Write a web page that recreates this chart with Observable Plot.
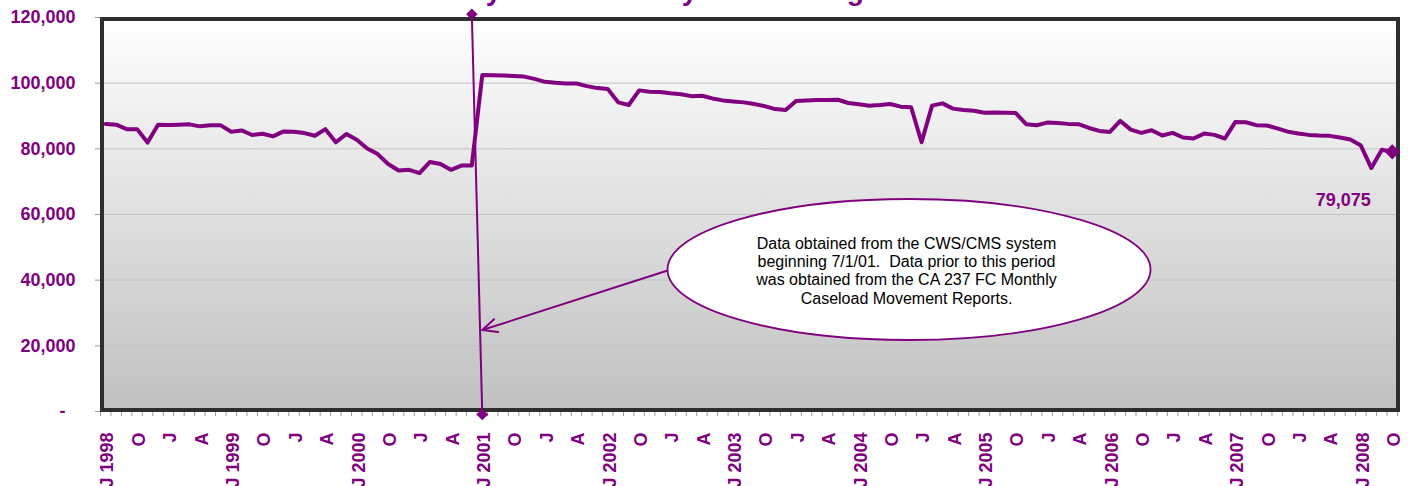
<!DOCTYPE html>
<html>
<head>
<meta charset="utf-8">
<script src="https://cdn.jsdelivr.net/npm/d3@7"></script>
<script src="https://cdn.jsdelivr.net/npm/@observablehq/plot@0.6"></script>
<style>
  body { margin: 0; background: #fff; }
  #chart svg { overflow: visible; }
</style>
</head>
<body>
<div id="chart"></div>
<script>
// Monthly foster care caseload, July 1998 .. October 2008 (124 months)
const caseload = [
  87550, 87350, 86000, 86000, 81900, 87350,            // Jul-Dec 1998
  87250, 87350, 87450, 86850, 87150, 87150,            // Jan-Jun 1999
  85200, 85600, 84200, 84600, 83800, 85300,            // Jul-Dec 1999
  85200, 84800, 84000, 86000, 82000, 84500,            // Jan-Jun 2000
  82750, 80100, 78400, 75400, 73400, 73600,            // Jul-Dec 2000
  72600, 76000, 75400, 73600, 74900, 74900,            // Jan-Jun 2001
  102500, 102400, 102300, 102200, 102000, 101300,      // Jul-Dec 2001
  100400, 100100, 99900, 99900, 99100, 98500,          // Jan-Jun 2002
  98200, 94150, 93350, 97800, 97400, 97300,            // Jul-Dec 2002
  96900, 96600, 96050, 96150, 95350, 94750,            // Jan-Jun 2003
  94450, 94150, 93650, 93000, 92100, 91800,            // Jul-Dec 2003
  94550, 94750, 94850, 94850, 94950, 93950,            // Jan-Jun 2004
  93550, 93150, 93350, 93650, 92850, 92650,            // Jul-Dec 2004
  82000, 93150, 93850, 92250, 91800, 91600,            // Jan-Jun 2005
  91000, 91100, 91000, 90900, 87500, 87200,            // Jul-Dec 2005
  88000, 87900, 87600, 87500, 86350, 85450,            // Jan-Jun 2006
  85150, 88500, 85850, 84850, 85650, 84050,            // Jul-Dec 2006
  84850, 83450, 83150, 84650, 84250, 83150,            // Jan-Jun 2007
  88200, 88100, 87200, 87100, 86250, 85250,            // Jul-Dec 2007
  84650, 84250, 84050, 83950, 83450, 82850,            // Jan-Jun 2008
  81000, 74150, 79700, 79075                           // Jul-Oct 2008
];
// quarterly tick labels (every third month starting July 1998)
const tickLabels = [
  "J 1998","O","J","A","J 1999","O","J","A","J 2000","O","J","A",
  "J 2001","O","J","A","J 2002","O","J","A","J 2003","O","J","A",
  "J 2004","O","J","A","J 2005","O","J","A","J 2006","O","J","A",
  "J 2007","O","J","A","J 2008","O"
];
const yTicks = [0, 20000, 40000, 60000, 80000, 100000, 120000];
const gridTicks = [20000, 40000, 60000, 80000, 100000];
const titleText = "Foster Care Monthly Caseload July 1998 through October 2008";
const noteText = "Data obtained from the CWS/CMS system\nbeginning 7/1/01.\u00a0 Data prior to this period\nwas obtained from the CA 237 FC Monthly\nCaseload Movement Reports.";
const lastLabel = "79,075";
// annotation anchors (data coordinates: month index, caseload)
const splitLine = [{x1: 35, y1: 121000, x2: 36, y2: -900}];
const noteArrow = [{x1: 53.8, y1: 43000, x2: 36, y2: 24800}];
const noteBubble = [{x: 76.8, y: 43250}];

const purple = "#800080";
const font = "'Liberation Sans', Arial, sans-serif";

const data = caseload.map((v, i) => ({i, v}));
const labelIdx = tickLabels.map((_, k) => k * 3);
const boundaries = d3.range(0, caseload.length + 1).map(i => i - 0.5);

// ellipse symbol for the callout bubble
const ellipse = {
  draw(ctx) {
    const rx = 241.5, ry = 70.5, k = 0.5523;
    ctx.moveTo(rx, 0);
    ctx.bezierCurveTo(rx, ry * k, rx * k, ry, 0, ry);
    ctx.bezierCurveTo(-rx * k, ry, -rx, ry * k, -rx, 0);
    ctx.bezierCurveTo(-rx, -ry * k, -rx * k, -ry, 0, -ry);
    ctx.bezierCurveTo(rx * k, -ry, rx, -ry * k, rx, 0);
    ctx.closePath();
  }
};

const chart = Plot.plot({
  width: 1411,
  height: 486,
  marginLeft: 100,
  marginRight: 14,
  marginTop: 17,
  marginBottom: 75,
  style: {fontFamily: font, background: "transparent"},
  x: {type: "linear", domain: [-0.5, caseload.length - 0.5]},
  y: {domain: [0, 120000]},
  marks: [
    Plot.frame({fill: "url(#plotbg)", stroke: "none"}),
    Plot.gridY(gridTicks, {stroke: "#c2c2c2", strokeOpacity: 1}),
    Plot.axisX(boundaries, {tickSize: 5, tickFormat: () => "", stroke: "#999", label: null}),
    Plot.axisX(labelIdx, {
      tickSize: 0, tickPadding: 21, tickRotate: -90, label: null,
      tickFormat: i => tickLabels[i / 3],
      fill: purple, fontSize: 18, fontWeight: "bold", dx: 2
    }),
    Plot.axisY(yTicks, {
      tickSize: 5, tickPadding: 20, label: null, stroke: "#999",
      tickFormat: d => d === 0 ? "-\u00a0\u00a0" : d3.format(",")(d),
      fill: purple, fontSize: 18, fontWeight: "bold"
    }),
    Plot.line(data, {x: "i", y: "v", stroke: purple, strokeWidth: 4, strokeLinejoin: "round"}),
    Plot.frame({stroke: "#2e2e2e", strokeWidth: 4, inset: 1.5, insetRight: -0.5}),
    Plot.link(splitLine, {x1: "x1", y1: "y1", x2: "x2", y2: "y2", stroke: purple, strokeWidth: 2}),
    Plot.dot(splitLine, {x: "x1", y: "y1", symbol: "diamond2", r: 5.2, fill: purple}),
    Plot.dot(splitLine, {x: "x2", y: "y2", symbol: "diamond2", r: 5.2, fill: purple}),
    Plot.arrow(noteArrow, {x1: "x1", y1: "y1", x2: "x2", y2: "y2", stroke: purple, strokeWidth: 2, headLength: 12, headAngle: 50}),
    Plot.dot(noteBubble, {x: "x", y: "y", symbol: ellipse, fill: "white", stroke: purple, strokeWidth: 1.8}),
    Plot.text([noteText], {x: () => 76.56, y: () => 43000, text: d => d, fontSize: 16, lineHeight: 1.15, fill: "black"}),
    Plot.dot([data[data.length - 1]], {x: "i", y: "v", symbol: "diamond2", r: 6.8, fill: purple}),
    Plot.text([lastLabel], {x: () => caseload.length - 1, y: () => caseload[caseload.length - 1], text: d => d, dx: -49, dy: 48, fill: purple, fontSize: 18, fontWeight: "bold"}),
    Plot.text([titleText], {frameAnchor: "top-left", textAnchor: "start", lineAnchor: "bottom", text: d => d, dx: 130, dy: -18, fill: purple, fontSize: 28, fontWeight: "bold"})
  ]
});

// gradient definition for the plot area background
const defs = d3.select(chart).insert("defs", ":first-child");
const grad = defs.append("linearGradient").attr("id", "plotbg").attr("x1", 0).attr("y1", 0).attr("x2", 0).attr("y2", 1);
grad.append("stop").attr("offset", "0%").attr("stop-color", "#ffffff");
grad.append("stop").attr("offset", "100%").attr("stop-color", "#c0c0c0");

document.getElementById("chart").appendChild(chart);
</script>
</body>
</html>
